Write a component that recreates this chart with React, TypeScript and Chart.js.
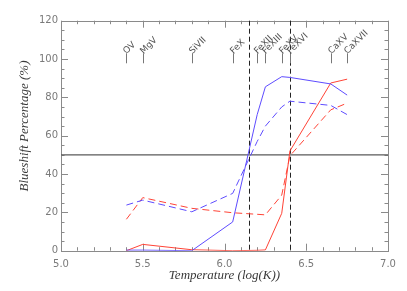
import React, { useEffect, useRef } from "react";
import { Chart, registerables } from "chart.js";

Chart.register(...registerables);

// Ion formation temperatures (log K) and names
const temps = [5.4, 5.5, 5.8, 6.05, 6.2, 6.25, 6.35, 6.4, 6.65, 6.75];
const ions = ["OV", "MgV", "SiVII", "FeX", "FeXII", "FeXIII", "FeXV", "FeXVI", "CaXV", "CaXVII"];

// Series (percent)
const blueSolid = [0.3, 0.3, 0, 15, 71, 85.5, 90.8, 90.4, 87, 81.2];
const blueDashed = [23.8, 26.4, 20.3, 29.9, 57, 65, 75, 78, 75.8, 71];
const redSolid = [0, 3.3, 0.5, 0, 0.2, 0.4, 19.5, 52, 87.5, 89.5];
const redDashed = [16.4, 27.7, 22.1, 19.8, 19, 18.7, 29, 49.5, 73.5, 77];

// Reference lines
const refY = 50;
const refX = [6.15, 6.4];

const xTicks = [5.0, 5.5, 6.0, 6.5, 7.0];
const yTicks = [0, 20, 40, 60, 80, 100, 120];

const xTitle = "Temperature (log(K))";
const yTitle = "Blueshift Percentage (%)";

const BLUE = "#5e4cff";
const RED = "#ff4336";

const toPts = (ys: number[]) => temps.map((t, i) => ({ x: t, y: ys[i] }));

const decorPlugin = {
  id: "decor",
  beforeDatasetsDraw(chart: any) {
    const { ctx, chartArea: a, scales } = chart;
    const xs = scales.x;
    const ys = scales.y;
    ctx.save();
    // frame
    ctx.strokeStyle = "#8a8a8a";
    ctx.lineWidth = 1;
    ctx.strokeRect(Math.round(a.left) + 0.5, Math.round(a.top) + 0.5, Math.round(a.right - a.left), Math.round(a.bottom - a.top));
    // x ticks
    ctx.beginPath();
    for (let i = 0; i <= 20; i++) {
      const v = 5 + i * 0.1;
      const px = Math.round(xs.getPixelForValue(v)) + 0.5;
      const len = i % 5 === 0 ? 7 : 3.5;
      ctx.moveTo(px, a.bottom);
      ctx.lineTo(px, a.bottom - len);
      ctx.moveTo(px, a.top);
      ctx.lineTo(px, a.top + len);
    }
    for (let i = 0; i <= 24; i++) {
      const v = i * 5;
      const py = Math.round(ys.getPixelForValue(v)) + 0.5;
      const len = i % 4 === 0 ? 7 : 3.5;
      ctx.moveTo(a.left, py);
      ctx.lineTo(a.left + len, py);
      ctx.moveTo(a.right, py);
      ctx.lineTo(a.right - len, py);
    }
    ctx.stroke();

    // horizontal reference
    const hy = ys.getPixelForValue(refY);
    ctx.strokeStyle = "#5a5a5a";
    ctx.lineWidth = 1.4;
    ctx.beginPath();
    ctx.moveTo(a.left, hy);
    ctx.lineTo(a.right, hy);
    ctx.stroke();

    // vertical dashed references
    ctx.strokeStyle = "#222";
    ctx.lineWidth = 1;
    ctx.setLineDash([5, 3]);
    refX.forEach((v) => {
      const px = Math.round(xs.getPixelForValue(v)) + 0.5;
      ctx.beginPath();
      ctx.moveTo(px, a.top);
      ctx.lineTo(px, a.bottom);
      ctx.stroke();
    });
    ctx.setLineDash([]);

    // ion labels
    ctx.strokeStyle = "#777";
    ctx.fillStyle = "#555";
    ctx.font = "9px 'DejaVu Sans'";
    ctx.textAlign = "left";
    ctx.textBaseline = "alphabetic";
    const tickTop = ys.getPixelForValue(103);
    const tickBot = tickTop + 10;
    temps.forEach((t, i) => {
      const px = Math.round(xs.getPixelForValue(t)) + 0.5;
      ctx.beginPath();
      ctx.moveTo(px, tickTop);
      ctx.lineTo(px, tickBot);
      ctx.stroke();
      ctx.save();
      ctx.translate(px, tickTop + 1);
      ctx.rotate(-Math.PI / 4);
      ctx.fillText(ions[i], 0, 0);
      ctx.restore();
    });

    // axis titles
    ctx.fillStyle = "#3a3a3a";
    ctx.font = "italic 13px 'Liberation Serif'";
    ctx.textAlign = "center";
    ctx.textBaseline = "middle";
    ctx.fillText(xTitle, (a.left + a.right) / 2, 276);
    ctx.save();
    ctx.translate(25, 126);
    ctx.rotate(-Math.PI / 2);
    ctx.fillText(yTitle, 0, 0);
    ctx.restore();
    ctx.restore();
  },
};

export default function App() {
  const ref = useRef<HTMLCanvasElement | null>(null);
  useEffect(() => {
    document.body.style.margin = "0";
    if (!ref.current) return;
    const tickFont = { family: "'DejaVu Sans'", size: 10 };
    const chart = new Chart(ref.current, {
      type: "line",
      data: {
        datasets: [
          { data: toPts(blueSolid), borderColor: BLUE, borderWidth: 1, pointRadius: 0, fill: false, tension: 0 },
          { data: toPts(blueDashed), borderColor: BLUE, borderWidth: 1, borderDash: [7, 4], pointRadius: 0, fill: false, tension: 0 },
          { data: toPts(redSolid), borderColor: RED, borderWidth: 1, pointRadius: 0, fill: false, tension: 0 },
          { data: toPts(redDashed), borderColor: RED, borderWidth: 1, borderDash: [7, 4], pointRadius: 0, fill: false, tension: 0 },
        ],
      },
      options: {
        animation: false,
        responsive: false,
        events: [],
        layout: { padding: { top: 20.7, right: 19, left: 0, bottom: 0 } },
        plugins: { legend: { display: false }, tooltip: { enabled: false }, title: { display: false } },
        scales: {
          x: {
            type: "linear",
            min: 5,
            max: 7,
            border: { display: false },
            grid: { display: false, drawTicks: false },
            afterBuildTicks: (s: any) => {
              s.ticks = xTicks.map((v) => ({ value: v }));
            },
            afterFit: (s: any) => {
              s.height = 40.3;
            },
            ticks: {
              font: tickFont,
              color: "#7a7a7a",
              padding: 8,
              maxRotation: 0,
              callback: (v: any) => Number(v).toFixed(1),
            },
          },
          y: {
            type: "linear",
            min: 0,
            max: 120,
            border: { display: false },
            grid: { display: false, drawTicks: false },
            afterBuildTicks: (s: any) => {
              s.ticks = yTicks.map((v) => ({ value: v }));
            },
            afterFit: (s: any) => {
              s.width = 61;
            },
            ticks: { font: tickFont, color: "#7a7a7a", padding: 3 },
          },
        },
      },
      plugins: [decorPlugin],
    });
    return () => chart.destroy();
  }, []);
  return (
    <div style={{ width: 407, height: 291, background: "#fff" }}>
      <canvas ref={ref} width={407} height={291} style={{ display: "block", width: 407, height: 291 }} />
    </div>
  );
}
